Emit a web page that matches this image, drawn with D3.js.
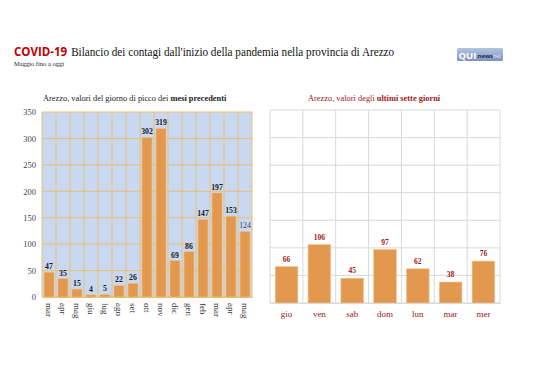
<!DOCTYPE html>
<html><head><meta charset="utf-8">
<script src="https://cdn.jsdelivr.net/npm/d3@7"></script>
<style>
html,body{margin:0;padding:0;background:#fff;}
svg{display:block;}
</style></head>
<body>
<svg id="c" width="538" height="380"></svg>
<script>
// ---- data ----
const monthCats = ["mar","apr","mag","giu","lug","ago","set","ott","nov","dic","gen","feb","mar ","apr ","mag "];
const monthLabels = ["mar","apr","mag","giu","lug","ago","set","ott","nov","dic","gen","feb","mar","apr","mag"];
const monthValues = [47,35,15,4,5,22,26,302,319,69,86,147,197,153,124];
const dayCats = ["gio","ven","sab","dom","lun","mar","mer"];
const dayValues = [66,106,45,97,62,38,76];
const yTicks = [0,50,100,150,200,250,300,350];

const svg = d3.select("#c");
const serif = "'Liberation Serif','DejaVu Serif',serif";
const sans = "'Open Sans','Liberation Sans',sans-serif";
const orange = "#e2994f";
const darkRed = "#a3161a";

// ---- title ----
const t = svg.append("text").attr("x",14).attr("y",56).attr("font-size",12.5);
t.append("tspan").attr("font-family",sans).attr("font-weight","bold").attr("fill","#c00000").attr("font-size",11.5).text("COVID-19");
t.append("tspan").attr("font-family",serif).attr("fill","#111").attr("dx",4)
  .attr("textLength",323).attr("lengthAdjust","spacingAndGlyphs")
  .text("Bilancio dei contagi dall'inizio della pandemia nella provincia di Arezzo");
svg.append("text").attr("x",14).attr("y",66).attr("font-family",serif).attr("font-size",6.5).attr("fill","#222").text("Maggio fino a oggi");

// logo
const defs = svg.append("defs");
const lg = defs.append("linearGradient").attr("id","lg").attr("x1",0).attr("y1",0).attr("x2",0).attr("y2",1);
lg.append("stop").attr("offset","0").attr("stop-color","#b4c4e0");
lg.append("stop").attr("offset","1").attr("stop-color","#7d93bf");
svg.append("rect").attr("x",457).attr("y",48).attr("width",46).attr("height",13).attr("rx",1.5).attr("fill","url(#lg)");
svg.append("text").attr("x",458.5).attr("y",58.5).attr("font-family",sans).attr("font-weight","bold")
  .attr("font-size",9.5).attr("fill","#fff").text("QUI");
svg.append("text").attr("x",477.5).attr("y",58).attr("font-family",sans).attr("font-weight","bold")
  .attr("font-size",6).attr("fill","#1d2f5a").text("news");
svg.append("text").attr("x",493).attr("y",58).attr("font-family",sans)
  .attr("font-size",5.2).attr("fill","#dde6f4").text("net");

// ---- left chart ----
const L = {x0:42, x1:252, y0:112, y1:297};
const xL = d3.scaleBand().domain(monthCats).range([L.x0,L.x1]).paddingInner(0.28).paddingOuter(0.14);
const yL = d3.scaleLinear().domain([0,350]).range([L.y1,L.y0]);

svg.append("text").attr("x",43).attr("y",101).attr("font-family",serif).attr("font-size",8.4).attr("fill","#222")
  .call(s=>{s.append("tspan").text("Arezzo, valori del giorno di picco dei ");
            s.append("tspan").attr("font-weight","bold").text("mesi precedenti");});

svg.append("rect").attr("x",L.x0).attr("y",L.y0).attr("width",L.x1-L.x0).attr("height",L.y1-L.y0).attr("fill","#c9d8f1");
svg.append("g").selectAll("line").data(yTicks).join("line")
  .attr("x1",L.x0).attr("x2",L.x1).attr("y1",d=>yL(d)).attr("y2",d=>yL(d))
  .attr("stroke","#e9c070").attr("stroke-width",1);
const bL = d3.range(monthCats.length+1).map(i=>L.x0 + i*(L.x1-L.x0)/monthCats.length);
svg.append("g").selectAll("line").data(bL).join("line")
  .attr("x1",d=>d).attr("x2",d=>d).attr("y1",L.y0).attr("y2",L.y1)
  .attr("stroke","#e9c070").attr("stroke-width",1);

const ayL = svg.append("g").attr("transform",`translate(${L.x0-5},0)`)
  .call(d3.axisLeft(yL).tickValues(yTicks).tickSize(0).tickPadding(1));
ayL.select(".domain").remove();
ayL.selectAll("text").attr("font-family",serif).attr("font-size",8.5).attr("fill","#444");

svg.append("g").selectAll("rect").data(monthValues).join("rect")
  .attr("x",(d,i)=>xL(monthCats[i])).attr("width",xL.bandwidth())
  .attr("y",d=>yL(d)).attr("height",d=>yL(0)-yL(d))
  .attr("fill",orange).attr("stroke","#f3c48f").attr("stroke-width",0.6);
svg.append("g").selectAll("text").data(monthValues).join("text")
  .attr("x",(d,i)=>xL(monthCats[i])+xL.bandwidth()/2).attr("y",d=>yL(d)-3)
  .attr("text-anchor","middle").attr("font-family",serif).attr("font-size",7.8)
  .attr("font-weight",(d,i)=>i===monthValues.length-1?"normal":"bold")
  .attr("fill",(d,i)=>i===monthValues.length-1?"#3a4660":"#1a1a2a")
  .text(d=>d);
const axL = svg.append("g").attr("transform",`translate(0,${L.y1})`)
  .call(d3.axisBottom(xL).tickSize(0).tickPadding(3).tickFormat((d,i)=>monthLabels[i]));
axL.select(".domain").attr("stroke","#e9c070");
axL.selectAll("text").attr("font-family",serif).attr("font-size",9).attr("fill","#333")
  .attr("transform","rotate(90)").attr("text-anchor","start")
  .attr("x",6).attr("y",0).attr("dy","0.32em");

// ---- right chart ----
const R = {x0:270, x1:500, y0:110, y1:303};
const xR = d3.scaleBand().domain(dayCats).range([R.x0,R.x1]).paddingInner(0.31).paddingOuter(0.16);
const yR = d3.scaleLinear().domain([0,350]).range([R.y1,R.y0]);

svg.append("text").attr("x",308).attr("y",101).attr("font-family",serif).attr("font-size",8.4).attr("fill",darkRed)
  .call(s=>{s.append("tspan").text("Arezzo, valori degli ");
            s.append("tspan").attr("font-weight","bold").text("ultimi sette giorni");});

svg.append("g").selectAll("line").data(yTicks).join("line")
  .attr("x1",R.x0).attr("x2",R.x1).attr("y1",d=>yR(d)).attr("y2",d=>yR(d))
  .attr("stroke","#d9d9d9").attr("stroke-width",1);
const bR = d3.range(dayCats.length+1).map(i=>R.x0 + i*(R.x1-R.x0)/dayCats.length);
svg.append("g").selectAll("line").data(bR).join("line")
  .attr("x1",d=>d).attr("x2",d=>d).attr("y1",R.y0).attr("y2",R.y1)
  .attr("stroke","#d9d9d9").attr("stroke-width",1);

svg.append("g").selectAll("rect").data(dayValues).join("rect")
  .attr("x",(d,i)=>xR(dayCats[i])).attr("width",xR.bandwidth())
  .attr("y",d=>yR(d)).attr("height",d=>yR(0)-yR(d))
  .attr("fill",orange).attr("stroke","#f3c48f").attr("stroke-width",0.6);
svg.append("g").selectAll("text").data(dayValues).join("text")
  .attr("x",(d,i)=>xR(dayCats[i])+xR.bandwidth()/2).attr("y",d=>yR(d)-5)
  .attr("text-anchor","middle").attr("font-family",serif).attr("font-size",7.5)
  .attr("font-weight","bold").attr("fill",darkRed).text(d=>d);
const axR = svg.append("g").attr("transform",`translate(0,${R.y1})`)
  .call(d3.axisBottom(xR).tickSize(0).tickPadding(8));
axR.select(".domain").attr("stroke","#d9d9d9");
axR.selectAll("text").attr("font-family",serif).attr("font-size",9).attr("fill",darkRed);
</script>
</body></html>
